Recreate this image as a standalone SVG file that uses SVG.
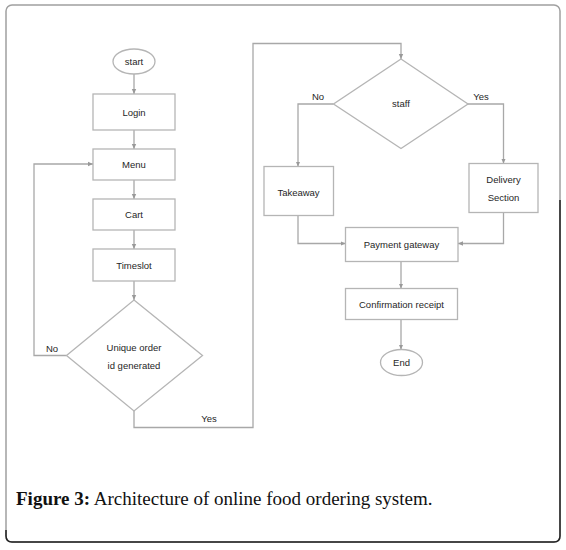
<svg xmlns="http://www.w3.org/2000/svg" width="566" height="550" viewBox="0 0 566 550">
<style>
.box{fill:#fff;stroke:#b5b5b5;stroke-width:1.3}
.lbl{font-family:"Liberation Sans",Arial,sans-serif;font-size:9.5px;fill:#262626;text-anchor:middle}
.edge{fill:none;stroke:#a8a8a8;stroke-width:1.3}
.cap{font-family:"Liberation Serif","Times New Roman",serif;font-size:19px;fill:#111}
</style>
<defs>
<marker id="ah" markerUnits="userSpaceOnUse" markerWidth="6" markerHeight="6" refX="5" refY="3" orient="auto">
<path d="M0,0.8 L5,3 L0,5.2 Z" fill="#999"/>
</marker>
</defs>
<rect width="566" height="550" fill="#fff"/>
<rect x="6" y="5" width="554" height="537" rx="6" fill="none" stroke="#a0a0a0" stroke-width="1.5"/>
<path d="M6,530 L6,536 Q6,542 12,542 L554,542 Q560,542 560,536 L560,200" fill="none" stroke="#222" stroke-width="1.5"/>

<g id="connectors">
<path class="edge" d="M134,74 L134,94" marker-end="url(#ah)"/>
<path class="edge" d="M134,130 L134,149" marker-end="url(#ah)"/>
<path class="edge" d="M134,180 L134,199" marker-end="url(#ah)"/>
<path class="edge" d="M134,230 L134,249" marker-end="url(#ah)"/>
<path class="edge" d="M134,281 L134,300" marker-end="url(#ah)"/>
<path class="edge" d="M66.5,355.5 L34,355.5 L34,164 L93,164" marker-end="url(#ah)"/>
<path class="edge" d="M134,411 L134,427.5 L253,427.5 L253,43.5 L401,43.5 L401,59" marker-end="url(#ah)"/>
<path class="edge" d="M333.5,104 L298,104 L298,166.5" marker-end="url(#ah)"/>
<path class="edge" d="M468,104 L503.5,104 L503.5,163.5" marker-end="url(#ah)"/>
<path class="edge" d="M298,215.5 L298,243.5 L345.5,243.5" marker-end="url(#ah)"/>
<path class="edge" d="M503.5,212.5 L503.5,243.5 L458,243.5" marker-end="url(#ah)"/>
<path class="edge" d="M401,261.5 L401,288.5" marker-end="url(#ah)"/>
<path class="edge" d="M401,319.5 L401,349.5" marker-end="url(#ah)"/>
<text class="lbl" x="52" y="352">No</text>
<text class="lbl" x="209" y="422">Yes</text>
<text class="lbl" x="318" y="100">No</text>
<text class="lbl" x="481" y="100">Yes</text>
</g>

<g id="start">
<ellipse class="box" cx="134" cy="61.5" rx="21" ry="12.5"/>
<text class="lbl" x="134" y="65">start</text>
</g>
<g id="login">
<rect class="box" x="93" y="94" width="82" height="36"/>
<text class="lbl" x="134" y="115.5">Login</text>
</g>
<g id="menu">
<rect class="box" x="93" y="149" width="82" height="31"/>
<text class="lbl" x="134" y="168">Menu</text>
</g>
<g id="cart">
<rect class="box" x="93" y="199" width="82" height="31"/>
<text class="lbl" x="134" y="218">Cart</text>
</g>
<g id="timeslot">
<rect class="box" x="93" y="249" width="82" height="32"/>
<text class="lbl" x="134" y="268.5">Timeslot</text>
</g>
<g id="unique">
<polygon class="box" points="134,300 202.5,355.5 134,411 66.5,355.5"/>
<text class="lbl" x="134" y="351">Unique order</text>
<text class="lbl" x="134" y="369">id generated</text>
</g>
<g id="staff">
<polygon class="box" points="401,59 468,104 401,148.5 333.5,104"/>
<text class="lbl" x="401" y="107">staff</text>
</g>
<g id="takeaway">
<rect class="box" x="264" y="166.5" width="69.5" height="49"/>
<text class="lbl" x="298.5" y="196">Takeaway</text>
</g>
<g id="delivery">
<rect class="box" x="469" y="163.5" width="69" height="49"/>
<text class="lbl" x="503.5" y="183">Delivery</text>
<text class="lbl" x="503.5" y="201">Section</text>
</g>
<g id="payment">
<rect class="box" x="345.5" y="227.5" width="112.5" height="34"/>
<text class="lbl" x="401.5" y="248">Payment gateway</text>
</g>
<g id="confirmation">
<rect class="box" x="345.5" y="288.5" width="112" height="31"/>
<text class="lbl" x="401.5" y="308">Confirmation receipt</text>
</g>
<g id="end">
<ellipse class="box" cx="401.5" cy="362.5" rx="21" ry="13"/>
<text class="lbl" x="401.5" y="366">End</text>
</g>

<text class="cap" x="16" y="505"><tspan font-weight="bold">Figure 3:</tspan> Architecture of online food ordering system.</text>
</svg>
